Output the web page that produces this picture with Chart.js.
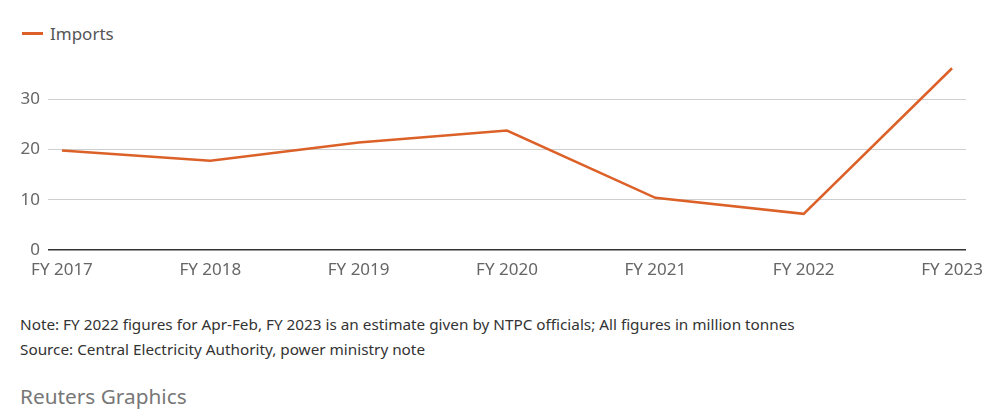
<!DOCTYPE html>
<html>
<head>
<meta charset="utf-8">
<script src="https://cdn.jsdelivr.net/npm/chart.js@4"></script>
<style>
  body { margin: 0; background: #fff; font-family: "Noto Sans", sans-serif; }
  .wrap { position: relative; width: 1000px; height: 418px; overflow: hidden; }
  .legend { position: absolute; left: 22px; top: 22px; font-size: 17px; color: #555; }
  .legend .swatch { display: inline-block; width: 21px; height: 3px; background: #dc6128; vertical-align: middle; margin-right: 7px; position: relative; top: -2px; }
  .chartbox { position: absolute; left: 0; top: 41px; width: 1000px; height: 251px; }
  .note { position: absolute; left: 20px; top: 312px; font-size: 15.3px; color: #333; line-height: 25px; }
  .credit { position: absolute; left: 20px; top: 382px; font-size: 20.8px; color: #777; }
</style>
</head>
<body>
<div class="wrap">
  <div class="legend"><span class="swatch"></span>Imports</div>
  <div class="chartbox"><canvas id="chart"></canvas></div>
  <div class="note">Note: FY 2022 figures for Apr-Feb, FY 2023 is an estimate given by NTPC officials; All figures in million tonnes<br>Source: Central Electricity Authority, power ministry note</div>
  <div class="credit">Reuters Graphics</div>
</div>
<script>
// coal imports, million tonnes
const years = ['FY 2017', 'FY 2018', 'FY 2019', 'FY 2020', 'FY 2021', 'FY 2022', 'FY 2023'];
const imports = [19.8, 17.8, 21.4, 23.8, 10.4, 7.2, 36.2];
const yTicks = [0, 10, 20, 30];

let points = [];
for (let i in imports) {
    points.push({ x: Number(i), y: imports[i] });
}

new Chart(document.getElementById('chart'), {
    type: 'line',
    data: {
        datasets: [{
            label: 'Imports',
            data: points,
            borderColor: '#dc6128',
            borderWidth: 2.5,
            pointRadius: 0,
            tension: 0
        }]
    },
    options: {
        responsive: true,
        maintainAspectRatio: false,
        animation: false,
        layout: { padding: { top: 8, right: 34, left: 0, bottom: 0 } },
        plugins: { legend: { display: false }, tooltip: { enabled: false } },
        scales: {
            x: {
                type: 'linear',
                min: -0.094,
                max: 6.094,
                afterFit: function(s) { s.height = 42; },
                afterBuildTicks: function(s) {
                    s.ticks = years.map((y, i) => ({ value: i }));
                },
                ticks: {
                    callback: function(v) { return years[v]; },
                    color: '#666',
                    font: { family: 'Noto Sans', size: 17 },
                    padding: 10,
                    maxRotation: 0,
                    autoSkip: false
                },
                grid: { display: false, drawTicks: false },
                border: { display: false }
            },
            y: {
                min: 0,
                max: 38,
                afterFit: function(s) { s.width = 48; },
                afterBuildTicks: function(s) {
                    s.ticks = yTicks.map(v => ({ value: v }));
                },
                ticks: {
                    color: '#666',
                    font: { family: 'Noto Sans', size: 17 },
                    padding: 8
                },
                grid: {
                    drawTicks: false,
                    color: ctx => ctx.tick && ctx.tick.value === 0 ? '#333' : '#cfcfcf',
                    lineWidth: ctx => ctx.tick && ctx.tick.value === 0 ? 1.5 : 1
                },
                border: { display: false }
            }
        }
    }
});
</script>
</body>
</html>
